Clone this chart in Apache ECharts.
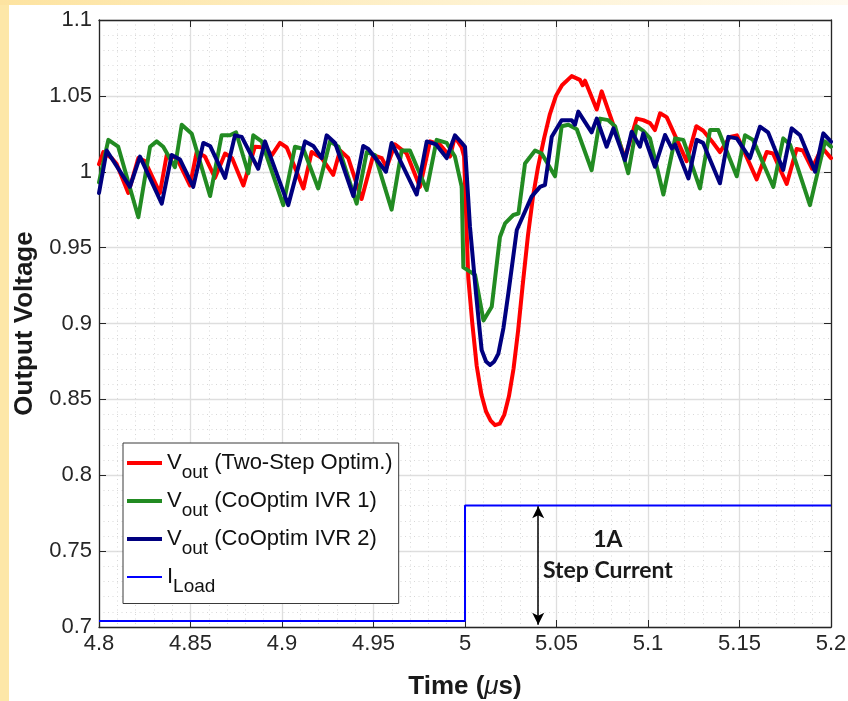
<!DOCTYPE html>
<html lang="en">
<head>
    <meta charset="UTF-8">
    <title>Output Voltage</title>
    <style>
        html, body { margin: 0; padding: 0; background: #fff; }
        .stripL { position: absolute; left: 0; top: 0; width: 9px; height: 701px; background: #fde7a8; }
        .stripT { position: absolute; left: 0; top: 0; width: 848px; height: 5px;
                  background: linear-gradient(to right, #fde3a0, #fef3d4 60%, #fffaf0); }
        #main { position: absolute; left: 0; top: 0; width: 848px; height: 701px; }
    </style>
</head>
<body>
<div class="stripL"></div>
<div class="stripT"></div>
<div id="main"></div>
<script src="https://cdn.jsdelivr.net/npm/echarts@6/dist/echarts.min.js"></script>
<script>
    // series names and legend text
    const seriesNames = ['Vout (Two-Step Optim.)', 'Vout (CoOptim IVR 1)', 'Vout (CoOptim IVR 2)', 'ILoad'];
    const legendText = ['{v|V}{s|out}{v| (Two-Step Optim.)}', '{v|V}{s|out}{v| (CoOptim IVR 1)}',
        '{v|V}{s|out}{v| (CoOptim IVR 2)}', '{v|I}{s|Load}'];

    // Two-Step Optim. (red)
    const tRed = [4.8, 4.8024, 4.8069, 4.8097, 4.8160, 4.8215, 4.8251, 4.8333, 4.8370, 4.8425, 4.8497, 4.8534,
        4.8579, 4.8634, 4.8689, 4.8727, 4.8789, 4.8852, 4.8907, 4.8945, 4.8989, 4.9026, 4.9117, 4.9162, 4.9217,
        4.9280, 4.9317, 4.9362, 4.9435, 4.9499, 4.9545, 4.9572, 4.9617, 4.9681, 4.9754, 4.9809, 4.9863, 4.9918,
        4.9945, 4.9982, 4.9995, 5.0018, 5.0040, 5.0064, 5.0090, 5.0115, 5.0140, 5.0164, 5.0190, 5.0215, 5.0240,
        5.0265, 5.0290, 5.0315, 5.0344, 5.0372, 5.0399, 5.0432, 5.0464, 5.0497, 5.0530, 5.0583, 5.0628, 5.0643,
        5.0656, 5.0720, 5.0747, 5.0874, 5.0938, 5.0974, 5.1011, 5.1038, 5.1066, 5.1102, 5.1211, 5.1264, 5.1302,
        5.1350, 5.1393, 5.1448, 5.1486, 5.1594, 5.1649, 5.1683, 5.1758, 5.1812, 5.1847, 5.1896, 5.1951, 5.2];
    const vRed = [1.005, 1.013, 1.009, 1.005, 0.986, 1.009, 1.007, 0.986, 1.011, 1.009, 0.991, 1.013,
        1.010, 0.996, 1.012, 1.009, 0.991, 1.0165, 1.016, 1.011, 1.019, 1.016, 0.989, 1.013, 1.009,
        0.998, 1.014, 1.009, 0.982, 1.011, 1.009, 1.003, 1.018, 1.012, 0.990, 1.020, 1.018, 1.010,
        1.023, 1.016, 1.010, 0.930, 0.900, 0.872, 0.853, 0.842, 0.836, 0.833, 0.834, 0.840, 0.852,
        0.870, 0.895, 0.925, 0.958, 0.984, 1.003, 1.022, 1.038, 1.050, 1.057, 1.063, 1.0605, 1.057,
        1.060, 1.041, 1.053, 1.009, 1.035, 1.034, 1.032, 1.0275, 1.0385, 1.036, 1.007, 1.030, 1.027,
        1.020, 1.013, 1.023, 1.024, 0.995, 1.013, 1.012, 0.992, 1.015, 1.014, 1.002, 1.016, 1.009];

    // CoOptim IVR 1 (green)
    const tGreen = [4.8, 4.8051, 4.8105, 4.8215, 4.8279, 4.8315, 4.8351, 4.8415, 4.8452, 4.8507, 4.8607, 4.8670,
        4.8716, 4.8749, 4.8816, 4.8843, 4.8889, 4.9007, 4.9071, 4.9117, 4.9198, 4.9262, 4.9308, 4.9408, 4.9463,
        4.9508, 4.9599, 4.9654, 4.9699, 4.9791, 4.9845, 4.9900, 4.9945, 4.9982, 4.9991, 5.0055, 5.0101, 5.0146,
        5.0191, 5.0219, 5.0264, 5.0292, 5.0328, 5.0383, 5.0419, 5.0492, 5.0528, 5.0565, 5.0611, 5.0692, 5.0738,
        5.0783, 5.0820, 5.0892, 5.0938, 5.0974, 5.1011, 5.1084, 5.1148, 5.1193, 5.1284, 5.1339, 5.1384, 5.1485,
        5.1530, 5.1574, 5.1685, 5.1739, 5.1776, 5.1885, 5.1967, 5.2];
    const vGreen = [0.993, 1.021, 1.0165, 0.970, 1.0165, 1.020, 1.0165, 1.003, 1.031, 1.025, 0.984, 1.024,
        1.024, 1.026, 0.999, 1.024, 1.020, 0.978, 1.0165, 1.015, 0.989, 1.020, 1.0165, 0.979, 1.013,
        1.011, 0.975, 1.014, 1.014, 0.988, 1.021, 1.019, 1.010, 0.990, 0.937, 0.932, 0.902, 0.911,
        0.957, 0.966, 0.9715, 0.9725, 1.0055, 1.014, 1.012, 0.997, 1.030, 1.031, 1.028, 1.001, 1.035,
        1.034, 1.030, 0.999, 1.030, 1.027, 1.022, 0.985, 1.022, 1.021, 0.989, 1.0275, 1.0275, 0.997,
        1.024, 1.021, 0.990, 1.022, 1.018, 0.978, 1.020, 1.0165];

    // CoOptim IVR 2 (navy)
    const tBlue = [4.8, 4.8042, 4.8169, 4.8224, 4.8343, 4.8397, 4.8443, 4.8515, 4.8570, 4.8607, 4.8689, 4.8743,
        4.8780, 4.8870, 4.8907, 4.9034, 4.9126, 4.9171, 4.9217, 4.9244, 4.9290, 4.9390, 4.9444, 4.9472, 4.9568,
        4.9599, 4.9736, 4.9791, 4.9842, 4.9900, 4.9945, 4.9982, 5.0, 5.0027, 5.0060, 5.0091, 5.0115, 5.0137,
        5.0160, 5.0182, 5.0210, 5.0237, 5.0283, 5.0364, 5.0410, 5.0437, 5.0474, 5.0528, 5.0583, 5.0601, 5.0619,
        5.0692, 5.0720, 5.0774, 5.0811, 5.0874, 5.0911, 5.0956, 5.0974, 5.1038, 5.1093, 5.1130, 5.1148, 5.1221,
        5.1266, 5.1301, 5.1393, 5.1439, 5.1485, 5.1557, 5.1612, 5.1656, 5.1739, 5.1785, 5.1831, 5.1913, 5.1958, 5.2];
    const vBlue = [0.986, 1.014, 0.990, 1.010, 0.979, 1.011, 1.008, 0.990, 1.019, 1.017, 0.996, 1.024,
        1.023, 1.002, 1.020, 0.978, 1.020, 1.017, 1.009, 1.024, 1.019, 0.984, 1.017, 1.015, 1.000,
        1.019, 0.985, 1.020, 1.018, 1.009, 1.024, 1.019, 1.0165, 0.964, 0.920, 0.8825, 0.875, 0.8727,
        0.875, 0.880, 0.897, 0.920, 0.9616, 0.9836, 0.990, 0.9913, 1.023, 1.034, 1.034, 1.031, 1.0396,
        1.026, 1.035, 1.0165, 1.0286, 1.0077, 1.0264, 1.0165, 1.0253, 1.0033, 1.0242, 1.0154, 1.018, 0.9956,
        1.021, 1.019, 0.9924, 1.023, 1.022, 1.0089, 1.0297, 1.026, 1.0012, 1.0286, 1.024, 1.000, 1.0253, 1.0198];

    // load current step (scaled onto the voltage axis)
    const tLoad = [4.8, 5.0, 5.0, 5.2];
    const iLoad = [0.704, 0.704, 0.78, 0.78];

    // step annotation
    const arrowT = 5.04;
    const arrowV = [0.7015, 0.7795];
    const noteText = ['1A', 'Step Current'];
    const noteT = [5.0781, 5.0781];
    const noteV = [0.7573, 0.7375];

    const colors = ['#ff0000', '#228b22', '#00007f', '#0000ff'];
    const zip = (t, v) => t.map((x, i) => [x, v[i]]);

    const chart = echarts.init(document.getElementById('main'));
    const axisColor = '#262626';
    const font = 'Liberation Sans, Arial, sans-serif';
    const tickFont = { fontFamily: font, fontSize: 22, color: axisColor };
    // thin line icon for the load current entry (tiny corner marks keep the box 4px tall)
    const thinIcon = 'path://M0,0L0.01,0L0,0.01Z M0,1H35V3H0Z M35,4L34.99,4L35,3.99Z';

    const xBase = {
        type: 'value', min: 4.8, max: 5.2, interval: 0.05,
        axisLine: { show: true, onZero: false, lineStyle: { color: axisColor, width: 1.3 } },
        axisTick: { show: true, inside: true, length: 7, lineStyle: { color: axisColor } },
        minorTick: { show: false, splitNumber: 5 }
    };
    const yBase = {
        type: 'value', min: 0.7, max: 1.1, interval: 0.05,
        axisLine: { show: true, onZero: false, lineStyle: { color: axisColor, width: 1.3 } },
        axisTick: { show: true, inside: true, length: 7, lineStyle: { color: axisColor } },
        minorTick: { show: false, splitNumber: 5 }
    };

    const option = {
        animation: false,
        color: colors,
        grid: {
            left: 99, right: 17, top: 20, bottom: 74, outerBoundsMode: 'none',
            show: true, backgroundColor: '#fff', borderWidth: 0
        },
        legend: {
            orient: 'vertical', left: 123, top: 443,
            data: seriesNames.map((n, i) => ({ name: n, icon: i < 3 ? 'rect' : thinIcon })),
            backgroundColor: '#fff', borderColor: '#3a3a3a', borderWidth: 1, borderRadius: 0,
            padding: [9, 6, 7, 4], itemGap: 7.5, itemWidth: 35, itemHeight: 4,
            formatter: name => legendText[seriesNames.indexOf(name)],
            textStyle: {
                fontFamily: font, color: '#111',
                rich: {
                    v: { fontSize: 22, fontFamily: font, color: '#111' },
                    s: { fontSize: 19, fontFamily: font, color: '#111', padding: [20, 0, 0, 0] }
                }
            }
        },
        xAxis: [
            Object.assign({}, xBase, {
                position: 'bottom',
                axisLabel: Object.assign({ margin: 6 }, tickFont),
                splitLine: { show: true, lineStyle: { color: '#dedede', width: 1.3 } },
                minorSplitLine: { show: true, lineStyle: { color: '#d8d8d8', type: [1, 3.5] } },
                name: '{n|Time (}{i|\u03bc}{n|s)}', nameLocation: 'middle', nameGap: 47,
                nameTextStyle: {
                    rich: {
                        n: { fontFamily: font, fontSize: 26, fontWeight: 'bold', color: '#1a1a1a' },
                        i: { fontFamily: font, fontSize: 26, fontStyle: 'italic', color: '#1a1a1a' }
                    }
                }
            }),
            Object.assign({}, xBase, { position: 'top', axisLabel: { show: false }, splitLine: { show: false } })
        ],
        yAxis: [
            Object.assign({}, yBase, {
                position: 'left',
                axisLabel: Object.assign({ margin: 7 }, tickFont),
                splitLine: { show: true, lineStyle: { color: '#dedede', width: 1.3 } },
                minorSplitLine: { show: true, lineStyle: { color: '#d8d8d8', type: [1, 3.5] } },
                name: 'Output Voltage', nameLocation: 'middle', nameGap: 57,
                nameTextStyle: { fontFamily: font, fontSize: 26, fontWeight: 'bold', color: '#1a1a1a' }
            }),
            Object.assign({}, yBase, { position: 'right', axisLabel: { show: false }, splitLine: { show: false } })
        ],
        series: [
            { name: seriesNames[0], type: 'line', data: zip(tRed, vRed), symbol: 'none', lineStyle: { width: 4, color: colors[0], join: 'round', cap: 'round' } },
            { name: seriesNames[1], type: 'line', data: zip(tGreen, vGreen), symbol: 'none', lineStyle: { width: 4, color: colors[1], join: 'round', cap: 'round' } },
            { name: seriesNames[2], type: 'line', data: zip(tBlue, vBlue), symbol: 'none', lineStyle: { width: 4, color: colors[2], join: 'round', cap: 'round' } },
            {
                name: seriesNames[3], type: 'line', data: zip(tLoad, iLoad), symbol: 'none', lineStyle: { width: 2, color: colors[3] },
                markLine: {
                    silent: true, symbol: ['arrow', 'arrow'], symbolSize: [9, 12],
                    label: { show: false },
                    lineStyle: { color: '#000', width: 1.5, type: 'solid' },
                    data: [[{ coord: [arrowT, arrowV[0]] }, { coord: [arrowT, arrowV[1]] }]]
                },
                markPoint: {
                    silent: true, symbol: 'circle', symbolSize: 0,
                    label: {
                        show: true, position: 'inside', formatter: p => p.name,
                        fontFamily: 'Lato, Open Sans, sans-serif', fontWeight: 'bold', fontSize: 23, color: '#1a1a1a'
                    },
                    data: noteText.map((s, i) => ({ name: s, coord: [noteT[i], noteV[i]] }))
                }
            }
        ]
    };

    chart.setOption(option);
</script>
</body>
</html>
